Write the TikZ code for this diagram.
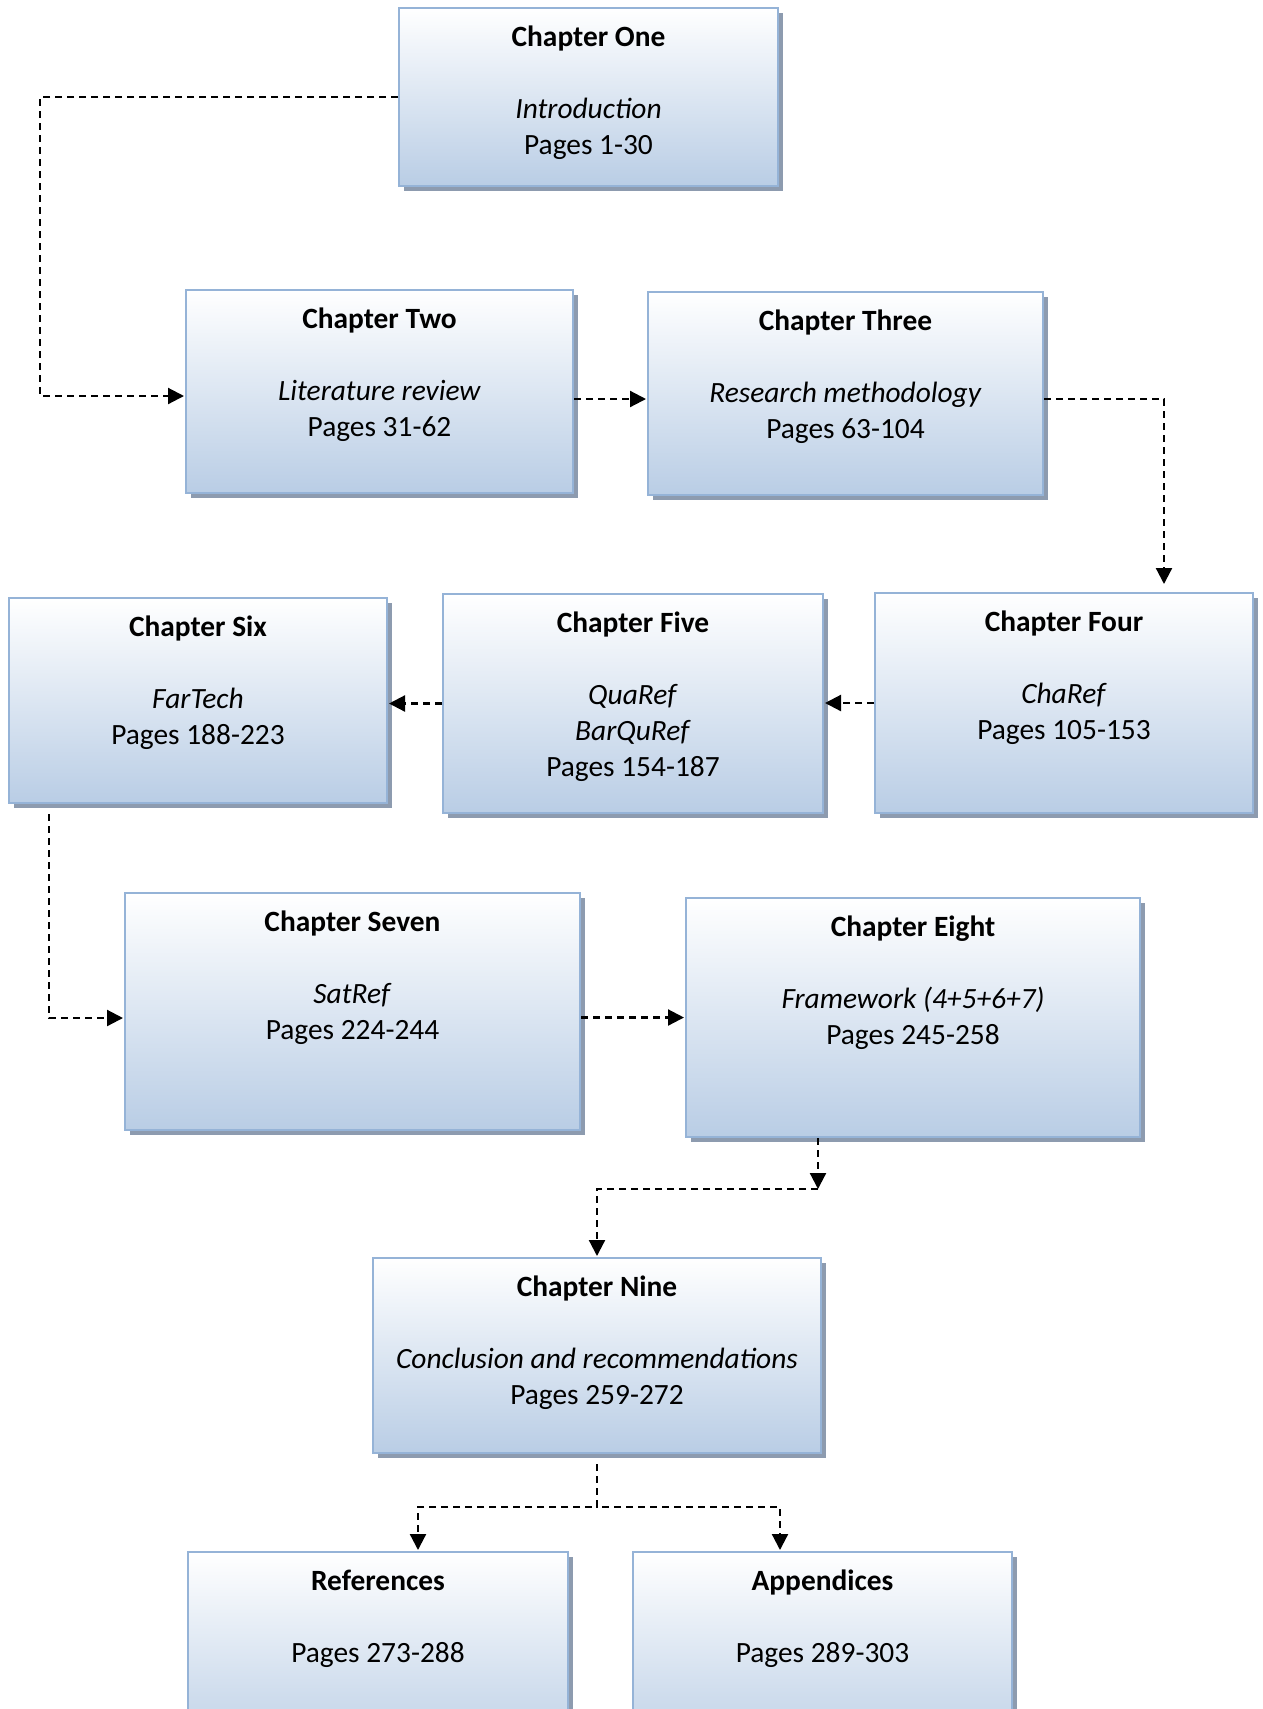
\documentclass[tikz,border=0pt]{standalone}
\usepackage{fontspec}
\setmainfont{Carlito}
\usetikzlibrary{shadows,arrows.meta}

\definecolor{boxline}{RGB}{149,179,215}
\definecolor{boxfill}{RGB}{185,205,229}
\definecolor{boxshadow}{RGB}{141,155,175}

\tikzset{
  chapbox/.style={draw=boxline, line width=2pt, top color=white, bottom color=boxfill,
    inner sep=0pt,
    drop shadow={shadow xshift=5pt, shadow yshift=-5pt, fill=boxshadow, opacity=1}},
  chaptext/.style={anchor=base, inner sep=0pt, font=\fontsize{29.4}{36}\selectfont},
  conn/.style={line width=2.2pt, dash pattern=on 7pt off 5pt,
    -{Triangle[length=16pt,width=16pt]}, shorten >=1pt},
}

% box: name, left, top, right, bottom, text rows
\newcommand\chbox[6]{%
  \node[chapbox, minimum width={(#4-#2)*1pt}, minimum height={(#5-#3)*1pt}]
    (#1) at ({(#2+#4)/2},{(#3+#5)/2}) {};
  \node[chaptext] (#1-text) at ([yshift=-39pt]#1.north)
    {\begin{tabular}[t]{@{}c@{}}#6\end{tabular}};
}

\begin{document}
\begin{tikzpicture}[x=1pt, y=-1pt]
\useasboundingbox (0,0) rectangle (1263,1709);
\clip (0,0) rectangle (1263,1709);

\chbox{c1}{399}{8}{778}{186}{\textbf{Chapter One}\\ \\ \textit{Introduction}\\ Pages 1-30}
\chbox{c2}{186}{290}{573}{493}{\textbf{Chapter Two}\\ \\ \textit{Literature review}\\ Pages 31-62}
\chbox{c3}{648}{292}{1043}{495}{\textbf{Chapter Three}\\ \\ \textit{Research methodology}\\ Pages 63-104}
\chbox{c4}{875}{593}{1253}{813}{\textbf{Chapter Four}\\ \\ \textit{ChaRef}\\ Pages 105-153}
\chbox{c5}{443}{594}{823}{813}{\textbf{Chapter Five}\\ \\ \textit{QuaRef}\\ \textit{BarQuRef}\\ Pages 154-187}
\chbox{c6}{9}{598}{387}{803}{\textbf{Chapter Six}\\ \\ \textit{FarTech}\\ Pages 188-223}
\chbox{c7}{125}{893}{580}{1130}{\textbf{Chapter Seven}\\ \\ \textit{SatRef}\\ Pages 224-244}
\chbox{c8}{686}{898}{1140}{1137}{\textbf{Chapter Eight}\\ \\ \textit{Framework (4+5+6+7)}\\ Pages 245-258}
\chbox{c9}{373}{1258}{821}{1453}{\textbf{Chapter Nine}\\ \\ \textit{Conclusion and recommendations}\\ Pages 259-272}
\chbox{refs}{188}{1552}{568}{1760}{\textbf{References}\\ \\ Pages 273-288}
\chbox{apps}{633}{1552}{1012}{1760}{\textbf{Appendices}\\ \\ Pages 289-303}

% bends of the connectors
\coordinate (k1) at (40,396);
\coordinate (r2) at (0,399);
\coordinate (k3) at (1164,399);
\coordinate (k6) at (49,1018);
\coordinate (k8) at (818,1189);
\coordinate (kr) at (418,1507);
\coordinate (ka) at (780,1507);

\draw[conn] (c1.west) -| (k1) -- (k1 -| c2.west);
\draw[conn] (c2.east |- r2) -- (c3.west |- r2);
\draw[conn, shorten >=8pt] (c3.east |- k3) -- (k3) -- (k3 |- c4.north);
\draw[conn] (c4.west) -- (c4.west -| c5.east);
\draw[conn] (c5.west) -- (c5.west -| c6.east);
\draw[conn, shorten <=10pt] (k6 |- c6.south) -- (k6) -- (k6 -| c7.west);
\draw[conn] (c7.east |- c8.west) -- (c8.west);
\draw[conn, shorten >=0pt] (k8 |- c8.south) -- (k8);
\draw[conn] (k8) -| (c9.north);
\draw[conn, shorten <=10pt] (c9.south) |- (kr) -- (kr |- refs.north);
\draw[conn, shorten <=10pt] (c9.south) |- (ka) -- (ka |- apps.north);
\end{tikzpicture}
\end{document}
